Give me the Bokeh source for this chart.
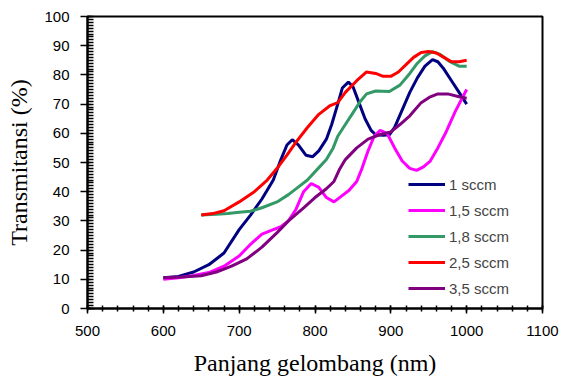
from bokeh.plotting import figure
from bokeh.models import Range1d, Legend, LegendItem, SingleIntervalTicker
from bokeh.embed import file_html
from bokeh.resources import INLINE

# 1 sccm
x1 = [600, 620, 640, 660, 680, 700, 715, 730, 745, 755, 763, 770, 778, 788, 797, 805, 815, 822, 830, 836, 844, 850, 858, 866, 874, 880, 890, 898, 905, 915, 925, 935, 945, 955, 962, 970, 980, 990, 1000]
y1 = [10.5, 11, 12.5, 15, 19, 27, 32, 37.5, 44, 51, 56, 57.8, 56, 52.5, 52, 54, 58, 63, 70, 75.5, 77.5, 76, 70.5, 65, 61, 59.5, 59.3, 59.5, 62, 68, 74, 79, 83, 85.2, 84.5, 82, 78, 74, 70]
# 1,5 sccm
x15 = [600, 620, 640, 660, 680, 700, 715, 730, 745, 755, 765, 775, 785, 795, 805, 815, 825, 835, 845, 855, 862, 870, 878, 886, 895, 905, 915, 925, 934, 943, 952, 962, 972, 985, 1000]
y15 = [10, 10.5, 11.3, 12.3, 14.5, 18, 22, 25.5, 27, 28, 30, 34, 40, 42.8, 41.5, 38, 36.5, 38.5, 40.5, 43.5, 48, 54, 59, 61, 60, 55, 50.5, 48, 47.3, 48.5, 50.5, 55, 60, 67.5, 75]
# 1,8 sccm
x18 = [650, 670, 685, 700, 715, 730, 750, 765, 780, 790, 806, 815, 824, 830, 840, 850, 860, 868, 880, 898, 912, 925, 935, 945, 955, 965, 978, 990, 1000]
y18 = [32, 32.3, 32.5, 33, 33.3, 34.5, 36.5, 39, 42, 44, 48.5, 51, 55, 59, 63, 67, 71, 73.5, 74.5, 74.3, 76.5, 80.5, 84, 86.5, 88, 87, 84.5, 83, 83]
# 2,5 sccm
x25 = [650, 665, 680, 700, 720, 737, 750, 763, 775, 790, 805, 820, 830, 840, 855, 868, 880, 890, 900, 910, 920, 930, 940, 950, 960, 970, 980, 990, 1000]
y25 = [32, 32.5, 33.5, 36.5, 40, 44, 48, 52.5, 57, 62, 66.5, 69.5, 70.5, 74, 78, 81, 80.5, 79.5, 79.5, 81, 83.5, 86, 87.7, 88, 87.5, 86, 84.5, 84.5, 85]
# 3,5 sccm
x35 = [600, 625, 650, 670, 690, 710, 730, 750, 765, 785, 800, 815, 825, 832, 840, 855, 870, 885, 900, 912, 925, 940, 952, 962, 975, 990, 1000]
y35 = [10.5, 10.8, 11.2, 12.5, 14.5, 17, 21, 26, 30, 34.5, 38, 41, 43.5, 47.5, 51, 55, 58, 59.5, 60.5, 63, 66, 70.5, 72.5, 73.5, 73.5, 72.5, 72]

labels = ["1 sccm", "1,5 sccm", "1,8 sccm", "2,5 sccm", "3,5 sccm"]
colors = ["#000080", "#FF00FF", "#339966", "#FF0000", "#800080"]
series = [(x1, y1), (x15, y15), (x18, y18), (x25, y25), (x35, y35)]

p = figure(width=562, height=381, output_backend="svg", toolbar_location=None,
           x_range=Range1d(500, 1100), y_range=Range1d(0, 100),
           min_border_left=87, min_border_right=20, min_border_top=16, min_border_bottom=73)
p.grid.visible = False
p.outline_line_color = "black"
p.outline_line_width = 2
p.background_fill_color = "white"
p.border_fill_color = "white"

items = []
for (xs, ys), c, lab in zip(series, colors, labels):
    r = p.line(xs, ys, line_color=c, line_width=3)
    items.append(LegendItem(label=lab, renderers=[r]))

legend = Legend(items=items, location=(321, 10), border_line_color=None,
                background_fill_alpha=0, padding=0, margin=0, spacing=6,
                glyph_height=20, glyph_width=37, label_height=20, label_standoff=4,
                label_text_font="Liberation Sans", label_text_font_size="15px")
p.add_layout(legend)

p.xaxis.ticker = SingleIntervalTicker(interval=100, num_minor_ticks=5)
p.yaxis.ticker = SingleIntervalTicker(interval=10, num_minor_ticks=10)

for ax in (p.xaxis[0], p.yaxis[0]):
    ax.axis_line_color = "black"
    ax.axis_line_width = 2
    ax.major_tick_line_color = "black"
    ax.minor_tick_line_color = "black"
    ax.major_tick_line_width = 1.5
    ax.minor_tick_line_width = 1.5
    ax.major_label_text_font = "Liberation Sans"
    ax.major_label_text_font_size = "15px"
    ax.major_label_text_color = "black"
    ax.axis_label_text_font = "Liberation Serif"
    ax.axis_label_text_font_size = "24px"
    ax.axis_label_text_font_style = "normal"
    ax.axis_label_text_color = "black"

p.xaxis.axis_label = "Panjang gelombang (nm)"
p.yaxis.axis_label = "Transmitansi (%)"

p.xaxis.major_tick_out = 5
p.xaxis.major_tick_in = 3
p.xaxis.minor_tick_out = 3
p.xaxis.minor_tick_in = 3
p.xaxis.major_label_standoff = 12
p.xaxis.axis_label_standoff = 11

p.yaxis.major_tick_out = 7
p.yaxis.major_tick_in = 3
p.yaxis.minor_tick_out = 0
p.yaxis.minor_tick_in = 6
p.yaxis.major_label_standoff = 11
p.yaxis.axis_label_standoff = 9

open("out.html", "w").write(file_html(p, INLINE))
